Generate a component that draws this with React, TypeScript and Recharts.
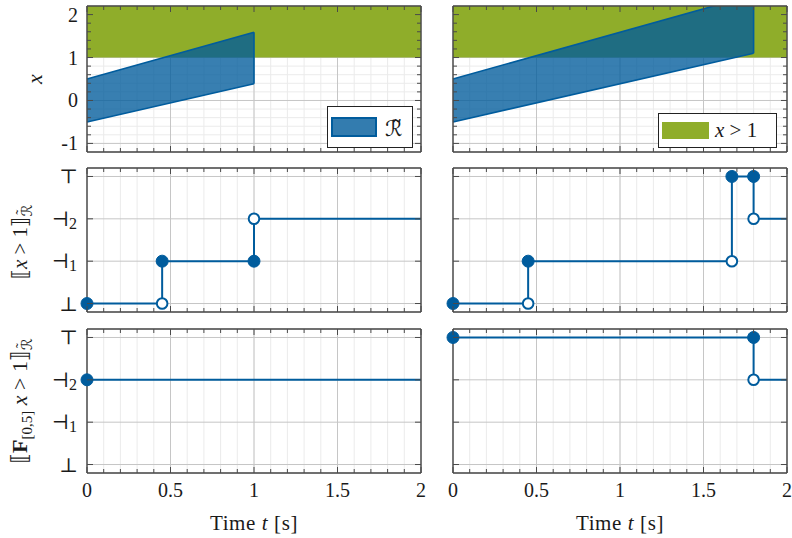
import React from 'react';
import { ComposedChart, Line, Area, XAxis, YAxis, CartesianGrid, Legend } from 'recharts';

// ---------- style constants ----------
const SERIF = '"Liberation Serif", "DejaVu Serif", serif';
const MATH = '"DejaVu Serif", "DejaVu Sans", serif';
const TEXT = '#1a1a1a';
const BLUE = '#005c9d';
const BLUE_FILL = '#005b9b';
const GREEN = '#8fad2a';
const FRAME = '#4a4a4a';
const GRID_MAJOR = '#c6c6c6';
const GRID_MINOR = '#ebebeb';

// ---------- axes / ticks ----------
const timeDomain = [0, 2];
const timeMinorTicks = [0, 0.1, 0.2, 0.3, 0.4, 0.5, 0.6, 0.7, 0.8, 0.9, 1, 1.1, 1.2, 1.3, 1.4, 1.5, 1.6, 1.7, 1.8, 1.9, 2];
const timeMajorTicks = [0, 0.5, 1, 1.5, 2];
const timeTickLabels = ['0', '0.5', '1', '1.5', '2'];

const stateDomain = [-1.2, 2.2];
const stateMajorTicks = [-1, 0, 1, 2];
const stateTickLabels = ['-1', '0', '1', '2'];
const stateMinorTicks = [-1, -0.8, -0.6, -0.4, -0.2, 0, 0.2, 0.4, 0.6, 0.8, 1, 1.2, 1.4, 1.6, 1.8, 2];

const levelDomain = [-0.2, 3.2];
const levelTicks = [0, 1, 2, 3];
const levelSymbols = ['⊥', '⊣', '⊣', '⊤'];
const levelSubscripts = ['', '1', '2', ''];

// ---------- data ----------
// reachable set R~ (lower / upper bound over time)
const reachTimesA = [0, 1];
const reachLowA = [-0.5, 0.39];
const reachHighA = [0.5, 1.59];
const reachTimesB = [0, 1.8];
const reachLowB = [-0.5, 1.1];
const reachHighB = [0.5, 2.46];

// predicate region x > 1
const predTimes = [0, 2];
const predLow = [1, 1];
const predHigh = [2.2, 2.2];

// [[x > 1]] robustness levels
const atomTimesA = [0, 0.45, 0.45, 1, 1, 2];
const atomLevelsA = [0, 0, 1, 1, 2, 2];
const atomMarksA = ['filled', 'open', 'filled', 'filled', 'open', 'none'];
const atomTimesB = [0, 0.45, 0.45, 1.67, 1.67, 1.8, 1.8, 2];
const atomLevelsB = [0, 0, 1, 1, 3, 3, 2, 2];
const atomMarksB = ['filled', 'open', 'filled', 'open', 'filled', 'filled', 'open', 'none'];

// [[F_[0,5] x > 1]] robustness levels
const evTimesA = [0, 2];
const evLevelsA = [2, 2];
const evMarksA = ['filled', 'none'];
const evTimesB = [0, 1.8, 1.8, 2];
const evLevelsB = [3, 3, 2, 2];
const evMarksB = ['filled', 'filled', 'open', 'none'];

// ---------- helpers ----------
const rangeRows = (ts: number[], lo: number[], hi: number[]) => ts.map((t, i) => ({ t, r: [lo[i], hi[i]] }));
const edgeRows = (ts: number[], lo: number[], hi: number[]) => {
  const i = ts.length - 1;
  return [{ t: ts[i], v: lo[i] }, { t: ts[i], v: hi[i] }];
};
const stepRows = (ts: number[], vs: number[], ms: string[]) => ts.map((t, i) => ({ t, v: vs[i], mark: ms[i] }));

const near = (a: number, b: number) => Math.abs(a - b) < 1e-6;

const makeXTick = (side: 'bottom' | 'top', withLabels: boolean) => (p: any) => {
  const v = p.payload.value;
  const mi = timeMajorTicks.findIndex((m) => near(m, v));
  const len = mi >= 0 ? 6 : 4;
  const dir = side === 'bottom' ? -1 : 1;
  return (
    <g key={`xt-${side}-${v}`}>
      <line x1={p.x} x2={p.x} y1={p.y} y2={p.y + dir * len} stroke={FRAME} strokeWidth={1} />
      {withLabels && mi >= 0 && (
        <text x={p.x} y={p.y + 24} textAnchor="middle" fontFamily={SERIF} fontSize={20} fill={TEXT}>
          {timeTickLabels[mi]}
        </text>
      )}
    </g>
  );
};

const makeYTick = (side: 'left' | 'right', mode: 'state' | 'level', withLabels: boolean) => (p: any) => {
  const v = p.payload.value;
  const dir = side === 'left' ? 1 : -1;
  if (mode === 'state') {
    const mi = stateMajorTicks.findIndex((m) => near(m, v));
    const len = mi >= 0 ? 6 : 4;
    return (
      <g key={`yt-${side}-${v}`}>
        <line x1={p.x} x2={p.x + dir * len} y1={p.y} y2={p.y} stroke={FRAME} strokeWidth={1} />
        {withLabels && mi >= 0 && (
          <text x={p.x - 9} y={p.y + 7} textAnchor="end" fontFamily={SERIF} fontSize={20} fill={TEXT}>
            {stateTickLabels[mi]}
          </text>
        )}
      </g>
    );
  }
  const li = levelTicks.findIndex((m) => near(m, v));
  const hasSub = li >= 0 && levelSubscripts[li] !== '';
  return (
    <g key={`yt-${side}-${v}`}>
      <line x1={p.x} x2={p.x + dir * 6} y1={p.y} y2={p.y} stroke={FRAME} strokeWidth={1} />
      {withLabels && li >= 0 && (
        <text x={p.x - (hasSub ? 10 : 9)} y={p.y + 7} textAnchor="end" fill={TEXT}>
          <tspan fontFamily={MATH} fontSize={20}>{levelSymbols[li]}</tspan>
          {hasSub && (
            <tspan fontFamily={SERIF} fontSize={16} dy={3}>{levelSubscripts[li]}</tspan>
          )}
        </text>
      )}
    </g>
  );
};

const renderMark = (p: any) => {
  const m = p.payload && p.payload.mark;
  const key = `mk-${p.index}`;
  if (m === 'filled') return <circle key={key} cx={p.cx} cy={p.cy} r={6} fill={BLUE} stroke={BLUE} strokeWidth={1} />;
  if (m === 'open') return <circle key={key} cx={p.cx} cy={p.cy} r={5.3} fill="#ffffff" stroke={BLUE} strokeWidth={2} />;
  return <g key={key} />;
};

// calligraphic R with a tilde on top
const RTildeTspans = ({ size, dy }: { size: number; dy: number }) => (
  <>
    <tspan fontFamily={MATH} fontStyle="italic" fontSize={size} dy={dy}>ℛ</tspan>
    <tspan fontFamily={SERIF} fontSize={size} dx={-size * 0.66} dy={-size * 0.42}>˜</tspan>
  </>
);

const YTitle = (props: any) => {
  const vb = props.viewBox || { x: 0, y: 0, width: 0, height: 0 };
  const px = vb.x + vb.width; // plot left edge
  const cy = vb.y + vb.height / 2;
  if (props.kind === 'state') {
    const bx = px - 45;
    return (
      <text x={bx} y={cy} transform={`rotate(-90 ${bx} ${cy})`} textAnchor="middle" fontFamily={SERIF} fontStyle="italic" fontSize={22} fill={TEXT}>
        x
      </text>
    );
  }
  const bx = px - 60;
  if (props.kind === 'atom') {
    return (
      <text x={bx} y={cy + 2} transform={`rotate(-90 ${bx} ${cy + 2})`} textAnchor="middle" fontFamily={SERIF} fontSize={21} fill={TEXT}>
        <tspan fontFamily={MATH}>⟦</tspan>
        <tspan fontStyle="italic">x</tspan>
        <tspan>{' > 1'}</tspan>
        <tspan fontFamily={MATH}>⟧</tspan>
        <RTildeTspans size={15} dy={5} />
      </text>
    );
  }
  return (
    <text x={bx} y={cy} transform={`rotate(-90 ${bx} ${cy})`} textAnchor="middle" fontFamily={SERIF} fontSize={22} fill={TEXT}>
      <tspan fontFamily={MATH}>⟦</tspan>
      <tspan fontWeight="bold">F</tspan>
      <tspan fontSize={15} dy={5}>[0,5]</tspan>
      <tspan fontStyle="italic" dy={-5}>{'  x'}</tspan>
      <tspan>{' > 1'}</tspan>
      <tspan fontFamily={MATH}>⟧</tspan>
      <RTildeTspans size={15} dy={5} />
    </text>
  );
};

const XTitle = (props: any) => {
  const vb = props.viewBox || { x: 0, y: 0, width: 0, height: 0 };
  return (
    <text x={vb.x + vb.width / 2} y={vb.y + 57} textAnchor="middle" fontFamily={SERIF} fontSize={21} fill={TEXT} letterSpacing={0.6}>
      {'Time '}
      <tspan fontStyle="italic">t</tspan>
      {' [s]'}
    </text>
  );
};

const ReachLegend = () => (
  <div style={{ width: 86, height: 42, boxSizing: 'border-box', border: '1px solid #222', background: '#fff', display: 'flex', alignItems: 'center', paddingLeft: 3 }}>
    <div style={{ width: 46, height: 20, boxSizing: 'border-box', border: `2px solid ${BLUE}`, background: 'rgba(0,91,155,0.8)' }} />
    <span style={{ marginLeft: 8, marginTop: 4, fontFamily: '"DejaVu Sans", sans-serif', fontSize: 22, color: TEXT, lineHeight: '26px' }}>
      {'ℛ\u0303'}
    </span>
  </div>
);

const PredLegend = () => (
  <div style={{ width: 119, height: 35, boxSizing: 'border-box', border: '1px solid #222', background: '#fff', display: 'flex', alignItems: 'center', paddingLeft: 3 }}>
    <div style={{ width: 47, height: 17, background: GREEN }} />
    <span style={{ marginLeft: 6, fontFamily: SERIF, fontSize: 21, color: TEXT, whiteSpace: 'nowrap' }}>
      <i>x</i>{' > 1'}
    </span>
  </div>
);

type PanelProps = {
  left: number;
  top: number;
  width: number;
  height: number;
  margin: { top: number; right: number; bottom: number; left: number };
  kind: 'state' | 'atom' | 'ev';
  leftLabels: boolean;
  bottomLabels: boolean;
  reach?: { ts: number[]; lo: number[]; hi: number[] };
  steps?: { ts: number[]; vs: number[]; ms: string[] };
  legend?: 'reach' | 'pred';
  legendPos?: { left: number; top: number };
};

function Panel(props: PanelProps) {
  const isState = props.kind === 'state';
  const yDomain = isState ? stateDomain : levelDomain;
  const yTicks = isState ? stateMinorTicks : levelTicks;
  const yMajor = isState ? stateMajorTicks : levelTicks;
  const mode = isState ? 'state' : 'level';
  return (
    <div style={{ position: 'absolute', left: props.left, top: props.top, width: props.width, height: props.height }}>
      <ComposedChart width={props.width} height={props.height} margin={props.margin}>
        <CartesianGrid xAxisId="x" yAxisId="y" stroke={GRID_MINOR} strokeWidth={1} horizontal={isState} />
        <CartesianGrid xAxisId="xM" yAxisId="yM" stroke={GRID_MAJOR} strokeWidth={1} />
        {isState && (
          <Area
            xAxisId="x"
            yAxisId="y"
            data={rangeRows(predTimes, predLow, predHigh)}
            dataKey="r"
            type="linear"
            fill={GREEN}
            fillOpacity={1}
            stroke="none"
            isAnimationActive={false}
          />
        )}
        {isState && props.reach && (
          <Area
            xAxisId="x"
            yAxisId="y"
            data={rangeRows(props.reach.ts, props.reach.lo, props.reach.hi)}
            dataKey="r"
            type="linear"
            fill={BLUE_FILL}
            fillOpacity={0.78}
            stroke={BLUE}
            strokeWidth={1.6}
            isAnimationActive={false}
          />
        )}
        {isState && props.reach && (
          <Line
            xAxisId="x"
            yAxisId="y"
            data={edgeRows(props.reach.ts, props.reach.lo, props.reach.hi)}
            dataKey="v"
            type="linear"
            stroke={BLUE}
            strokeWidth={1.6}
            dot={false}
            isAnimationActive={false}
          />
        )}
        <XAxis
          xAxisId="x"
          type="number"
          dataKey="t"
          domain={timeDomain}
          ticks={timeMinorTicks}
          interval={0}
          height={1}
          tickSize={0}
          tickMargin={0}
          tickLine={false}
          axisLine={{ stroke: FRAME, strokeWidth: 1.4 }}
          tick={makeXTick('bottom', props.bottomLabels)}
          label={props.bottomLabels ? <XTitle /> : undefined}
        />
        <XAxis
          xAxisId="xt"
          orientation="top"
          type="number"
          dataKey="t"
          domain={timeDomain}
          allowDataOverflow
          ticks={timeMinorTicks}
          interval={0}
          height={1}
          tickSize={0}
          tickMargin={0}
          tickLine={false}
          axisLine={{ stroke: FRAME, strokeWidth: 1.4 }}
          tick={makeXTick('top', false)}
        />
        <XAxis xAxisId="xM" type="number" dataKey="t" domain={timeDomain} allowDataOverflow ticks={timeMajorTicks} interval={0} hide />
        <YAxis
          yAxisId="y"
          type="number"
          domain={yDomain}
          allowDataOverflow={isState}
          ticks={yTicks}
          interval={0}
          width={1}
          tickSize={0}
          tickMargin={0}
          tickLine={false}
          axisLine={{ stroke: FRAME, strokeWidth: 1.4 }}
          tick={makeYTick('left', mode, props.leftLabels)}
          label={props.leftLabels ? <YTitle kind={props.kind} /> : undefined}
        />
        <YAxis
          yAxisId="yr"
          orientation="right"
          type="number"
          domain={yDomain}
          allowDataOverflow
          ticks={yTicks}
          interval={0}
          width={1}
          tickSize={0}
          tickMargin={0}
          tickLine={false}
          axisLine={{ stroke: FRAME, strokeWidth: 1.4 }}
          tick={makeYTick('right', mode, false)}
        />
        <YAxis yAxisId="yM" type="number" domain={yDomain} allowDataOverflow ticks={yMajor} interval={0} hide />
        {!isState && props.steps && (
          <Line
            xAxisId="x"
            yAxisId="y"
            data={stepRows(props.steps.ts, props.steps.vs, props.steps.ms)}
            dataKey="v"
            type="linear"
            stroke={BLUE}
            strokeWidth={2}
            dot={renderMark}
            activeDot={false}
            isAnimationActive={false}
          />
        )}
        {props.legend && props.legendPos && (
          <Legend
            layout="horizontal"
            verticalAlign="middle"
            align="center"
            wrapperStyle={{ left: props.legendPos.left, top: props.legendPos.top, width: 'auto', height: 'auto' }}
            content={() => (props.legend === 'reach' ? <ReachLegend /> : <PredLegend />)}
          />
        )}
      </ComposedChart>
    </div>
  );
}

// axis boxes are 1px wide/high, so margins are one pixel smaller than the plot offset
const leftCol = { left: 0, width: 440, mLeft: 86, mRight: 18 };
const rightCol = { left: 440, width: 352, mLeft: 12, mRight: 4 };
const rows = [
  { top: 0, height: 160, mTop: 5, mBottom: 7 },
  { top: 160, height: 160, mTop: 7, mBottom: 7 },
  { top: 320, height: 218, mTop: 8, mBottom: 64 },
];

export default function App() {
  const mk = (c: typeof leftCol, r: (typeof rows)[number]) => ({
    left: c.left,
    top: r.top,
    width: c.width,
    height: r.height,
    margin: { top: r.mTop, right: c.mRight, bottom: r.mBottom, left: c.mLeft },
  });
  return (
    <div style={{ position: 'absolute', left: 0, top: 0, width: 792, height: 538, background: '#ffffff', overflow: 'hidden' }}>
      <Panel {...mk(leftCol, rows[0])} kind="state" leftLabels bottomLabels={false}
        reach={{ ts: reachTimesA, lo: reachLowA, hi: reachHighA }} legend="reach" legendPos={{ left: 327, top: 106 }} />
      <Panel {...mk(rightCol, rows[0])} kind="state" leftLabels={false} bottomLabels={false}
        reach={{ ts: reachTimesB, lo: reachLowB, hi: reachHighB }} legend="pred" legendPos={{ left: 218, top: 113 }} />
      <Panel {...mk(leftCol, rows[1])} kind="atom" leftLabels bottomLabels={false}
        steps={{ ts: atomTimesA, vs: atomLevelsA, ms: atomMarksA }} />
      <Panel {...mk(rightCol, rows[1])} kind="atom" leftLabels={false} bottomLabels={false}
        steps={{ ts: atomTimesB, vs: atomLevelsB, ms: atomMarksB }} />
      <Panel {...mk(leftCol, rows[2])} kind="ev" leftLabels bottomLabels
        steps={{ ts: evTimesA, vs: evLevelsA, ms: evMarksA }} />
      <Panel {...mk(rightCol, rows[2])} kind="ev" leftLabels={false} bottomLabels
        steps={{ ts: evTimesB, vs: evLevelsB, ms: evMarksB }} />
    </div>
  );
}
